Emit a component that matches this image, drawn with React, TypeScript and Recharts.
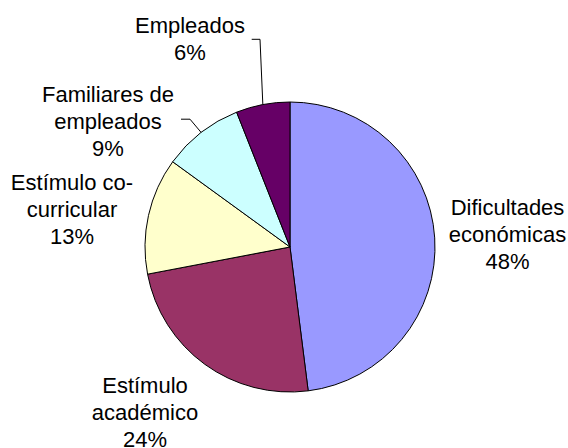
import { PieChart, Pie, Cell } from 'recharts';

const categories = [
  'Dificultades\neconómicas',
  'Estímulo\nacadémico',
  'Estímulo co-\ncurricular',
  'Familiares de\nempleados',
  'Empleados',
];
const values = [48, 24, 13, 9, 6];
const colors = ['#9999FF', '#993366', '#FFFFCC', '#CCFFFF', '#660066'];

const data = categories.map((name, i) => ({ name, value: values[i] }));

// label placement relative to pie centre (first line baseline), plus leader elbow
const labelLayout = [
  { dx: 217.5, dy: -32 },
  { dx: -145, dy: 146 },
  { dx: -218, dy: -57 },
  { dx: -182, dy: -145.3, elbow: [82, 17.5], end: 73 },
  { dx: -100, dy: -213.7, elbow: [70, 6], end: 61.7 },
];

const RAD = Math.PI / 180;
const LINE_H = 27;

function renderLabel(props: any) {
  const { cx, cy, midAngle, outerRadius, index, value } = props;
  const lay = labelLayout[index];
  const lx = cx + lay.dx;
  const ly = cy + lay.dy;
  const lines = [...String(categories[index]).split('\n'), `${value}%`];
  let leader = null;
  if (lay.elbow) {
    const sx = cx + outerRadius * Math.cos(-midAngle * RAD);
    const sy = cy + outerRadius * Math.sin(-midAngle * RAD);
    const ex = lx + lay.elbow[0];
    const ey = ly + lay.elbow[1];
    leader = (
      <polyline
        points={`${sx},${sy} ${ex},${ey} ${lx + (lay.end ?? 0)},${ey}`}
        fill="none"
        stroke="#000"
        strokeWidth={1}
      />
    );
  }
  return (
    <g key={`lbl-${index}`}>
      {leader}
      <text
        x={lx}
        y={ly}
        textAnchor="middle"
        fill="#000"
        fontSize={22}
        fontFamily="'Liberation Sans', Arial, sans-serif"
      >
        {lines.map((t, i) => (
          <tspan key={i} x={lx} dy={i === 0 ? 0 : LINE_H}>
            {t}
          </tspan>
        ))}
      </text>
    </g>
  );
}

export default function App() {
  return (
    <div style={{ position: 'absolute', left: 0, top: 0, background: '#fff' }}>
      <PieChart width={568} height={448} margin={{ top: 0, right: 0, bottom: 0, left: 0 }}>
        <Pie
          data={data}
          dataKey="value"
          nameKey="name"
          cx={290}
          cy={247}
          outerRadius={145}
          startAngle={90}
          endAngle={-270}
          stroke="#000"
          strokeWidth={1}
          label={renderLabel}
          labelLine={false}
          isAnimationActive={false}
        >
          {data.map((d, i) => (
            <Cell key={d.name} fill={colors[i]} />
          ))}
        </Pie>
      </PieChart>
    </div>
  );
}
